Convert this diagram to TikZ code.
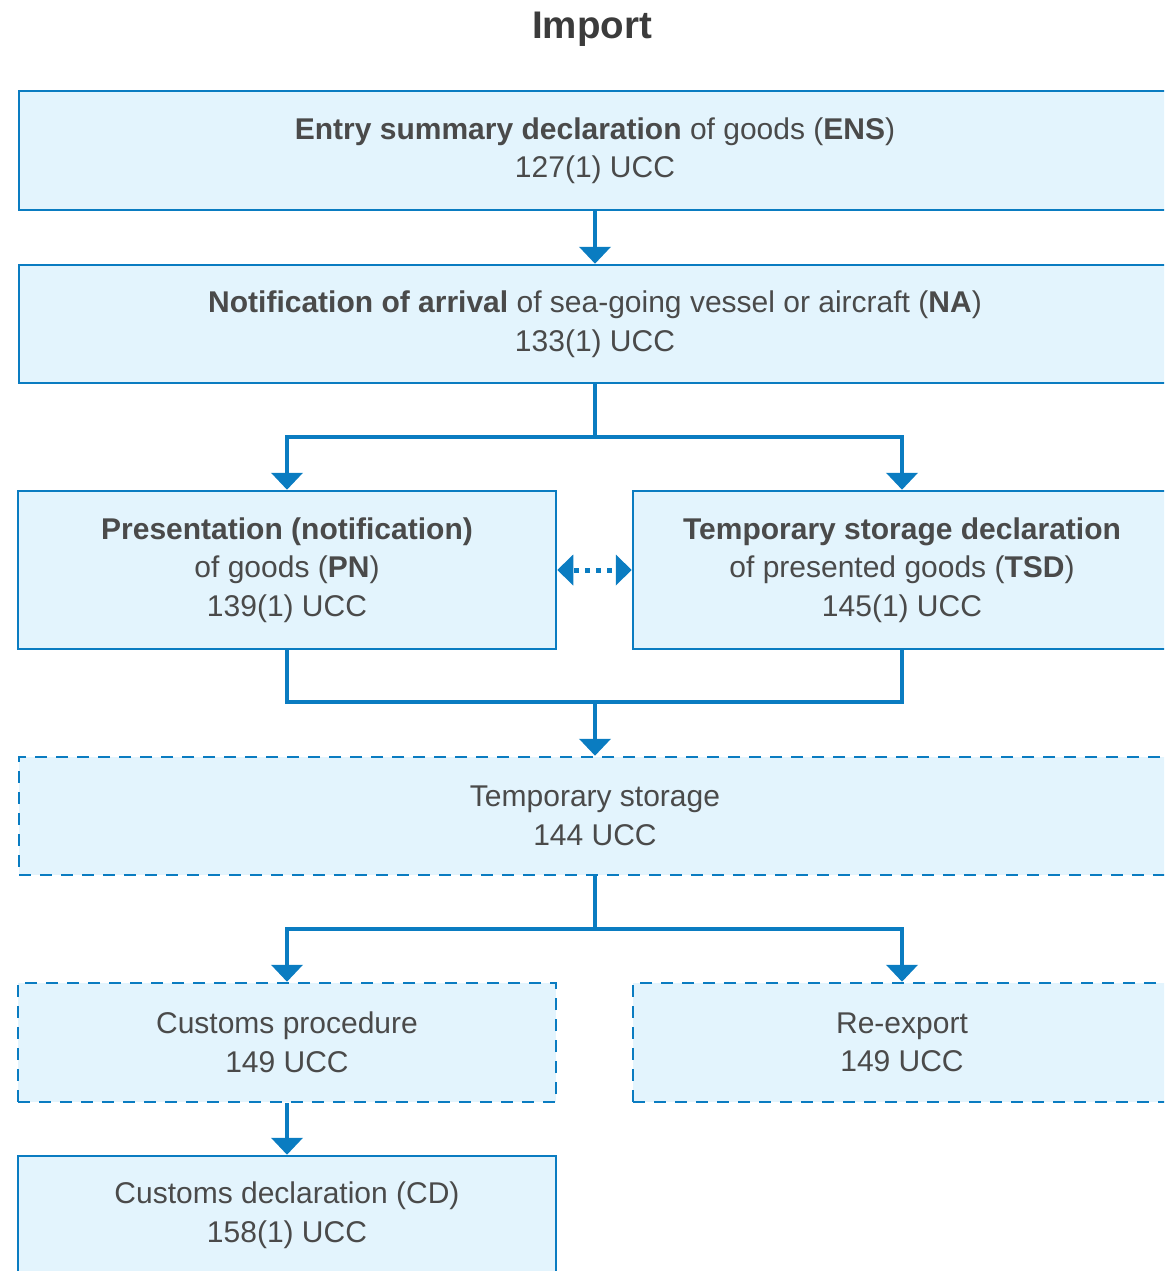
\documentclass[tikz,border=0pt]{standalone}
\usepackage{fontspec}
\setmainfont{Liberation Sans}
\usetikzlibrary{arrows.meta}
\definecolor{bord}{HTML}{0A7CC1}
\definecolor{fillb}{HTML}{E3F4FD}
\definecolor{txt}{HTML}{4A4A4A}
\newcommand{\boxfont}{\fontsize{30}{38.5}\selectfont}
\begin{document}
\begin{tikzpicture}[x=1pt,y=-1pt,
  box/.style={draw=bord, fill=fillb, line width=2.5pt, inner sep=0pt, align=center, text=txt, font=\boxfont},
  dbox/.style={box, dash pattern=on 12pt off 9pt},
  link/.style={draw=bord, line width=4.5pt, line join=miter},
  arr/.style={link, -{Triangle[width=31pt,length=17pt]}},
  darr/.style={draw=bord, line width=5pt, dash pattern=on 5pt off 6pt, dash phase=-2pt,
    {Triangle[width=30pt,length=16pt]}-{Triangle[width=30pt,length=16pt]}}]
\useasboundingbox (0,0) rectangle (1164,1271);
\clip (0,0) rectangle (1164,1271);
\node[text=txt!80!black, font=\fontsize{38.5}{42}\selectfont\bfseries] (title) at (592,29) {Import};
\node[box, minimum width=1152pt, minimum height=119pt] (ens) at (595,150.5)
  {\textbf{Entry summary declaration} of goods (\textbf{ENS})\\127(1) UCC};
\node[box, minimum width=1152pt, minimum height=118pt] (na) at (595,324)
  {\textbf{Notification of arrival} of sea-going vessel or aircraft (\textbf{NA})\\133(1) UCC};
\node[box, minimum width=538pt, minimum height=158pt] (pn) at (287,570)
  {\textbf{Presentation (notification)}\\of goods (\textbf{PN})\\139(1) UCC};
\node[box, minimum width=538pt, minimum height=158pt] (tsd) at (902,570)
  {\textbf{Temporary storage declaration}\\of presented goods (\textbf{TSD})\\145(1) UCC};
\node[dbox, minimum width=1152pt, minimum height=118pt] (ts) at (595,816)
  {Temporary storage\\144 UCC};
\node[dbox, minimum width=538pt, minimum height=119pt] (cp) at (287,1042.5)
  {Customs procedure\\149 UCC};
\node[dbox, minimum width=538pt, minimum height=119pt] (re) at (902,1042.5)
  {Re-export\\149 UCC};
\node[box, minimum width=538pt, minimum height=118pt] (cd) at (287,1215)
  {Customs declaration (CD)\\158(1) UCC};
\coordinate (j1) at (595,437);
\coordinate (j2) at (595,702);
\coordinate (j3) at (595,929);
\draw[arr] (ens.south) -- (na.north);
\draw[link] (na.south) -- (j1);
\draw[arr] (j1) -| (pn.north);
\draw[arr] (j1) -| (tsd.north);
\draw[darr] (pn.east) -- (tsd.west);
\draw[link] (pn.south) |- (j2) -| (tsd.south);
\draw[arr] (j2) -- (ts.north);
\draw[link] (ts.south) -- (j3);
\draw[arr] (j3) -| (cp.north);
\draw[arr] (j3) -| (re.north);
\draw[arr] (cp.south) -- (cd.north);
\end{tikzpicture}
\end{document}
